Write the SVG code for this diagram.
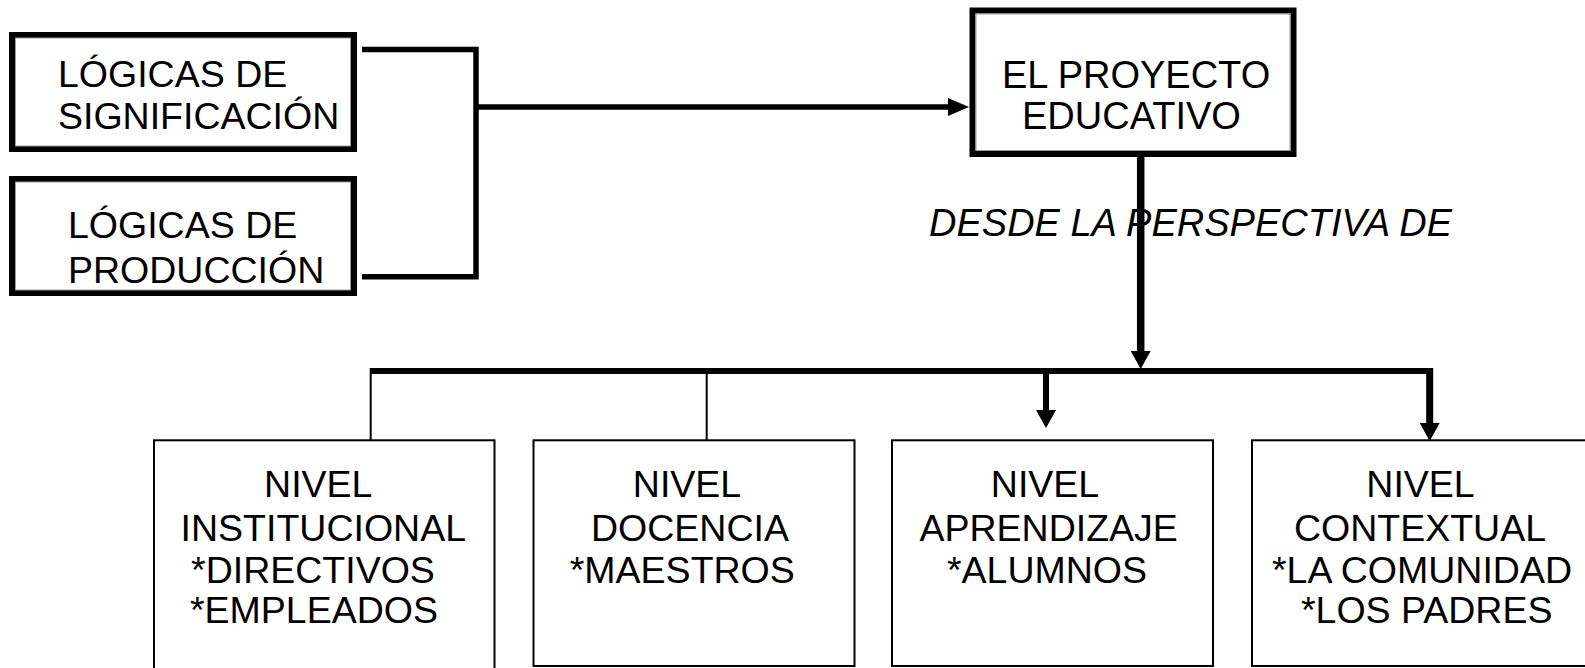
<svg xmlns="http://www.w3.org/2000/svg" width="1585" height="668" viewBox="0 0 1585 668">
<defs>
<style>
text{font-family:"Liberation Sans",Arial,sans-serif;font-size:37.5px;fill:#000}
.it{font-style:italic;font-size:38px}
.big{font-size:38px}
.mid{text-anchor:middle}
.thick{fill:#fff;stroke:#000;stroke-width:6}
.inner{fill:none;stroke:#999;stroke-width:1}
.thin{fill:#fff;stroke:#000;stroke-width:2}
.conn{fill:none;stroke:#000;stroke-linecap:butt}
</style>
<marker id="ah" markerUnits="userSpaceOnUse" markerWidth="20" markerHeight="20" refX="0" refY="10" orient="auto" viewBox="0 0 20 20">
<path d="M0,0 L18,10 L0,20 Z" fill="#000"/>
</marker>
<marker id="ahs" markerUnits="userSpaceOnUse" markerWidth="21" markerHeight="18" refX="0" refY="9" orient="auto" viewBox="0 0 21 18">
<path d="M0,0 L21,9 L0,18 Z" fill="#000"/>
</marker>
</defs>
<rect width="1585" height="668" fill="#fff"/>
<g id="connectors">
<path class="conn" stroke-width="5.5" d="M362,49.5 H476 V276.7 H362"/>
<path class="conn" stroke-width="5.5" d="M476,107 H948" marker-end="url(#ahs)"/>
<path class="conn" stroke-width="7.5" d="M1140.7,157 V351" marker-end="url(#ah)"/>
<path class="conn" stroke-width="6" d="M370,371 H1433"/>
<path class="conn" stroke-width="2" d="M370.7,368 V440"/>
<path class="conn" stroke-width="2" d="M706.7,374 V440"/>
<path class="conn" stroke-width="6" d="M1046,374 V410" marker-end="url(#ah)"/>
<path class="conn" stroke-width="7" d="M1429.7,368 V423" marker-end="url(#ah)"/>
</g>
<g id="logicas-significacion">
<rect class="thick" x="12" y="35" width="342" height="114"/>
<rect class="inner" x="15.5" y="38" width="335" height="108"/>
<text x="58" y="87">LÓGICAS DE</text>
<text x="58" y="129">SIGNIFICACIÓN</text>
</g>
<g id="logicas-produccion">
<rect class="thick" x="12" y="179" width="342" height="114"/>
<rect class="inner" x="15.5" y="182" width="335" height="108"/>
<text x="68" y="238">LÓGICAS DE</text>
<text x="68" y="283">PRODUCCIÓN</text>
</g>
<g id="proyecto-educativo">
<rect class="thick" x="972.5" y="10.5" width="321" height="143.5"/>
<rect class="inner" x="976" y="14" width="314" height="136.5"/>
<text class="big" x="1002" y="88">EL PROYECTO</text>
<text class="big" x="1022" y="129">EDUCATIVO</text>
</g>
<g id="perspectiva-label">
<text class="it" x="929" y="236">DESDE LA PERSPECTIVA DE</text>
</g>
<g id="nivel-institucional">
<rect class="thin" x="154" y="440.3" width="340.5" height="240"/>
<text class="mid" x="318.3" y="497">NIVEL</text>
<text class="mid" x="323.3" y="541">INSTITUCIONAL</text>
<text class="mid" x="313" y="583">*DIRECTIVOS</text>
<text class="mid" x="314" y="623">*EMPLEADOS</text>
</g>
<g id="nivel-docencia">
<rect class="thin" x="533.5" y="440.3" width="321" height="225.7"/>
<text class="mid" x="687" y="497">NIVEL</text>
<text class="mid" x="690" y="541">DOCENCIA</text>
<text class="mid" x="682.3" y="583">*MAESTROS</text>
</g>
<g id="nivel-aprendizaje">
<rect class="thin" x="892" y="440.3" width="321" height="225.7"/>
<text class="mid" x="1045" y="497">NIVEL</text>
<text class="mid" x="1048.7" y="541">APRENDIZAJE</text>
<text class="mid" x="1047" y="583">*ALUMNOS</text>
</g>
<g id="nivel-contextual">
<rect class="thin" x="1252" y="440.3" width="345" height="225.7"/>
<text class="mid" x="1420.5" y="497">NIVEL</text>
<text class="mid" x="1420" y="541">CONTEXTUAL</text>
<text class="mid" x="1422" y="583">*LA COMUNIDAD</text>
<text class="mid" x="1426.7" y="623">*LOS PADRES</text>
</g>
</svg>
